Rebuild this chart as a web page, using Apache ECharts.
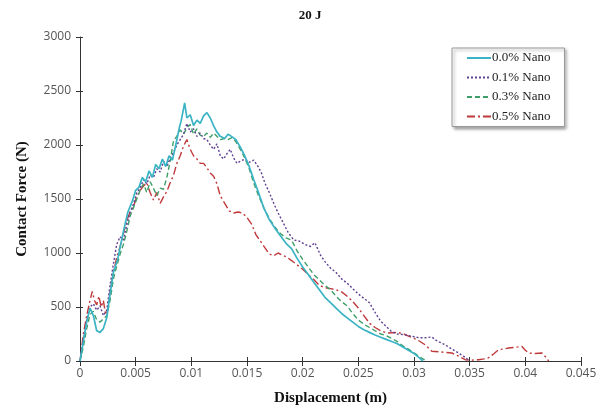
<!DOCTYPE html>
<html>
<head>
<meta charset="utf-8">
<script src="https://cdn.jsdelivr.net/npm/echarts@6/dist/echarts.min.js"></script>
<style>html,body{margin:0;padding:0;background:#fff}#c{width:604px;height:412px}</style>
</head>
<body>
<div id="c"></div>
<script>
var chartTitle = '20 J';
var xName = 'Displacement (m)';
var yName = 'Contact Force (N)';
var seriesNames = ['0.0% Nano', '0.1% Nano', '0.3% Nano', '0.5% Nano'];

var nano00 = [[0,0],[0.0003,180],[0.0006,360],[0.0009,490],[0.0012,420],[0.0015,280],[0.0018,265],[0.0021,300],[0.0024,400],[0.0027,620],[0.003,820],[0.0034,950],[0.0039,1200],[0.0043,1380],[0.0047,1480],[0.005,1580],[0.0053,1610],[0.0056,1700],[0.0059,1660],[0.0062,1760],[0.0065,1700],[0.0068,1820],[0.0071,1780],[0.0074,1870],[0.0077,1800],[0.008,1900],[0.0083,1860],[0.0086,2000],[0.0089,2150],[0.0091,2230],[0.0094,2390],[0.0096,2250],[0.0099,2280],[0.0102,2180],[0.0105,2230],[0.0108,2200],[0.0111,2270],[0.0114,2300],[0.0117,2250],[0.012,2180],[0.0123,2120],[0.0126,2080],[0.013,2060],[0.0133,2100],[0.0136,2080],[0.014,2050],[0.0144,1980],[0.0148,1900],[0.0152,1800],[0.0156,1680],[0.016,1570],[0.0165,1420],[0.017,1310],[0.0175,1230],[0.018,1160],[0.0185,1090],[0.019,1040],[0.0195,950],[0.02,870],[0.0205,800],[0.021,730],[0.0215,660],[0.022,590],[0.0225,540],[0.023,490],[0.0235,440],[0.024,400],[0.0245,360],[0.025,320],[0.0255,290],[0.026,265],[0.0265,240],[0.027,220],[0.0275,200],[0.028,180],[0.0285,160],[0.029,130],[0.0295,100],[0.03,70],[0.0304,35],[0.0308,0]];

var nano01 = [[0,0],[0.0003,200],[0.0006,380],[0.0009,500],[0.0012,530],[0.0015,470],[0.0018,510],[0.0021,420],[0.0024,470],[0.0027,700],[0.003,900],[0.0033,1080],[0.0036,1150],[0.0039,1120],[0.0042,1260],[0.0045,1380],[0.0048,1450],[0.0051,1560],[0.0054,1600],[0.0057,1680],[0.006,1640],[0.0063,1720],[0.0066,1700],[0.0069,1780],[0.0072,1750],[0.0075,1850],[0.0078,1800],[0.0081,1880],[0.0084,1930],[0.0087,2000],[0.009,2050],[0.0093,2100],[0.0096,2200],[0.0099,2120],[0.0102,2150],[0.0105,2080],[0.0108,2110],[0.0111,2060],[0.0114,2050],[0.0117,2000],[0.012,1960],[0.0123,2010],[0.0126,1900],[0.0129,1870],[0.0132,1920],[0.0135,1960],[0.0138,1880],[0.0141,1830],[0.0144,1850],[0.0148,1870],[0.0152,1840],[0.0156,1860],[0.016,1800],[0.0163,1740],[0.0166,1650],[0.017,1560],[0.0174,1460],[0.0178,1370],[0.0182,1290],[0.0187,1190],[0.0192,1120],[0.0197,1110],[0.0202,1080],[0.0207,1060],[0.0211,1095],[0.0216,980],[0.022,920],[0.0225,860],[0.023,820],[0.0235,760],[0.024,720],[0.0245,670],[0.025,620],[0.0255,580],[0.026,540],[0.0265,450],[0.027,370],[0.0275,320],[0.028,270],[0.0285,250],[0.029,245],[0.0295,235],[0.03,225],[0.0305,215],[0.031,215],[0.0316,222],[0.032,190],[0.0328,150],[0.0334,110],[0.034,74],[0.0345,40],[0.0349,10]];

var nano03 = [[0,0],[0.0003,130],[0.0006,300],[0.0009,430],[0.0012,460],[0.0015,380],[0.0018,360],[0.0021,390],[0.0024,420],[0.0027,560],[0.003,760],[0.0033,880],[0.0036,990],[0.0039,1080],[0.0042,1200],[0.0045,1340],[0.0048,1420],[0.0051,1500],[0.0054,1580],[0.0057,1640],[0.006,1560],[0.0063,1660],[0.0066,1600],[0.0069,1530],[0.0072,1600],[0.0075,1590],[0.0078,1700],[0.0081,1850],[0.0084,2040],[0.0087,2080],[0.009,2140],[0.0093,2100],[0.0096,2160],[0.0099,2190],[0.0102,2100],[0.0105,2150],[0.0108,2090],[0.0111,2080],[0.0114,2110],[0.0117,2070],[0.012,2110],[0.0123,2080],[0.0126,2050],[0.013,2060],[0.0133,2050],[0.0137,2070],[0.014,2030],[0.0144,1960],[0.0148,1880],[0.0152,1780],[0.0156,1650],[0.016,1540],[0.0165,1420],[0.017,1320],[0.0175,1240],[0.018,1180],[0.0185,1140],[0.019,1120],[0.0195,1020],[0.02,940],[0.0205,870],[0.021,800],[0.0215,750],[0.022,700],[0.0225,660],[0.023,600],[0.0235,550],[0.024,510],[0.0245,440],[0.025,380],[0.0255,340],[0.026,310],[0.0265,280],[0.027,250],[0.0275,235],[0.028,210],[0.0285,180],[0.029,140],[0.0295,110],[0.03,75],[0.0305,40],[0.0311,0]];

var nano05 = [[0,0],[0.0003,250],[0.0006,420],[0.0009,560],[0.0011,645],[0.0013,560],[0.0015,520],[0.0017,600],[0.0019,500],[0.0021,560],[0.0023,430],[0.0025,470],[0.0027,650],[0.003,820],[0.0033,960],[0.0036,1060],[0.0039,1180],[0.0042,1300],[0.0045,1380],[0.0048,1430],[0.0051,1520],[0.0054,1580],[0.0057,1620],[0.006,1650],[0.0063,1560],[0.0066,1490],[0.0069,1560],[0.0072,1460],[0.0075,1520],[0.0078,1570],[0.0081,1650],[0.0084,1720],[0.0087,1830],[0.009,1900],[0.0093,1990],[0.0096,2050],[0.0099,1960],[0.0102,1900],[0.0105,1870],[0.0108,1830],[0.0111,1830],[0.0114,1790],[0.0117,1740],[0.012,1710],[0.0123,1640],[0.0126,1530],[0.013,1460],[0.0134,1390],[0.0138,1370],[0.0142,1380],[0.0146,1370],[0.015,1330],[0.0154,1270],[0.0158,1170],[0.0162,1110],[0.0166,1050],[0.017,990],[0.0174,975],[0.0178,1000],[0.0182,980],[0.0186,960],[0.019,930],[0.0195,890],[0.02,850],[0.0205,800],[0.021,755],[0.0215,700],[0.022,680],[0.0225,670],[0.023,660],[0.0235,640],[0.024,600],[0.0245,550],[0.025,490],[0.0255,420],[0.026,350],[0.0265,310],[0.027,280],[0.0276,259],[0.028,262],[0.0285,265],[0.029,255],[0.0295,230],[0.03,210],[0.0304,190],[0.031,150],[0.0316,90],[0.0322,85],[0.0328,80],[0.0334,74],[0.034,45],[0.0346,12],[0.0352,8],[0.0358,12],[0.0363,20],[0.0367,30],[0.0372,70],[0.0376,105],[0.038,110],[0.0385,120],[0.039,125],[0.0397,135],[0.04,100],[0.0403,74],[0.0409,70],[0.0415,74],[0.0418,40],[0.0421,0]];

var seriesData = [nano00, nano01, nano03, nano05];
var colors = ['#3AB4C4', '#5E3F92', '#3E9E68', '#C0393B'];
var dashes = ['solid', [2, 2], [5, 3], [8, 3, 2, 3]];
var widths = [1.7, 1.4, 1.4, 1.4];

var chart = echarts.init(document.getElementById('c'));
var axisCol = '#333';
var tickFont = {fontFamily: 'Open Sans', fontSize: 12, color: '#555'};
var nameFont = {fontFamily: 'Liberation Serif', fontSize: 15, fontWeight: 'bold', color: '#111'};

chart.setOption({
  animation: false,
  backgroundColor: '#fff',
  title: {
    text: chartTitle, left: 305, top: 4, textAlign: 'center',
    textStyle: {fontFamily: 'Liberation Serif', fontSize: 13, fontWeight: 'bold', color: '#111'}
  },
  legend: {
    data: seriesNames,
    orient: 'vertical',
    left: 452, top: 48,
    padding: [3, 14, 3, 14],
    itemWidth: 24, itemHeight: 14, itemGap: 5.5,
    borderColor: '#999', borderWidth: 1,
    backgroundColor: '#fff',
    shadowColor: 'rgba(0,0,0,0.35)', shadowBlur: 3, shadowOffsetX: 2, shadowOffsetY: 2,
    itemStyle: {opacity: 0},
    textStyle: {fontFamily: 'Liberation Serif', fontSize: 13, lineHeight: 14, color: '#222', padding: [0, 0, 0, -4]}
  },
  grid: {left: 80, right: 23, top: 37, bottom: 51},
  xAxis: [{
    type: 'value', min: 0, max: 0.045, interval: 0.005,
    name: xName, nameLocation: 'middle', nameGap: 30, nameTextStyle: nameFont,
    axisLine: {lineStyle: {color: axisCol, width: 1}},
    axisTick: {show: true, length: 5, lineStyle: {color: axisCol}},
    axisLabel: Object.assign({margin: 7, formatter: function (v) { return String(+v.toFixed(3)); }}, tickFont),
    splitLine: {show: false}
  }, {
    type: 'value', min: 0, max: 0.045, interval: 0.005, position: 'bottom',
    axisLine: {show: false},
    axisTick: {show: true, inside: true, length: 4, lineStyle: {color: axisCol}},
    axisLabel: {show: false}, splitLine: {show: false}
  }],
  yAxis: [{
    type: 'value', min: 0, max: 3000, interval: 500,
    name: yName, nameLocation: 'middle', nameGap: 50, nameTextStyle: nameFont,
    axisLine: {show: true, lineStyle: {color: axisCol, width: 1}},
    axisTick: {show: true, length: 4, lineStyle: {color: axisCol}},
    axisLabel: Object.assign({margin: 9, formatter: function (v) { return String(v); }}, tickFont),
    splitLine: {show: false}
  }, {
    type: 'value', min: 0, max: 3000, interval: 500, position: 'left',
    axisLine: {show: false},
    axisTick: {show: true, inside: true, length: 3, lineStyle: {color: axisCol}},
    axisLabel: {show: false}, splitLine: {show: false}
  }],
  series: seriesNames.map(function (n, i) {
    return {
      name: n, type: 'line', data: seriesData[i], showSymbol: false, symbol: 'none',
      xAxisIndex: 0, yAxisIndex: 0,
      lineStyle: {color: colors[i], width: widths[i], type: dashes[i]},
      itemStyle: {color: colors[i]},
      z: 4 - i
    };
  })
});
</script>
</body>
</html>
